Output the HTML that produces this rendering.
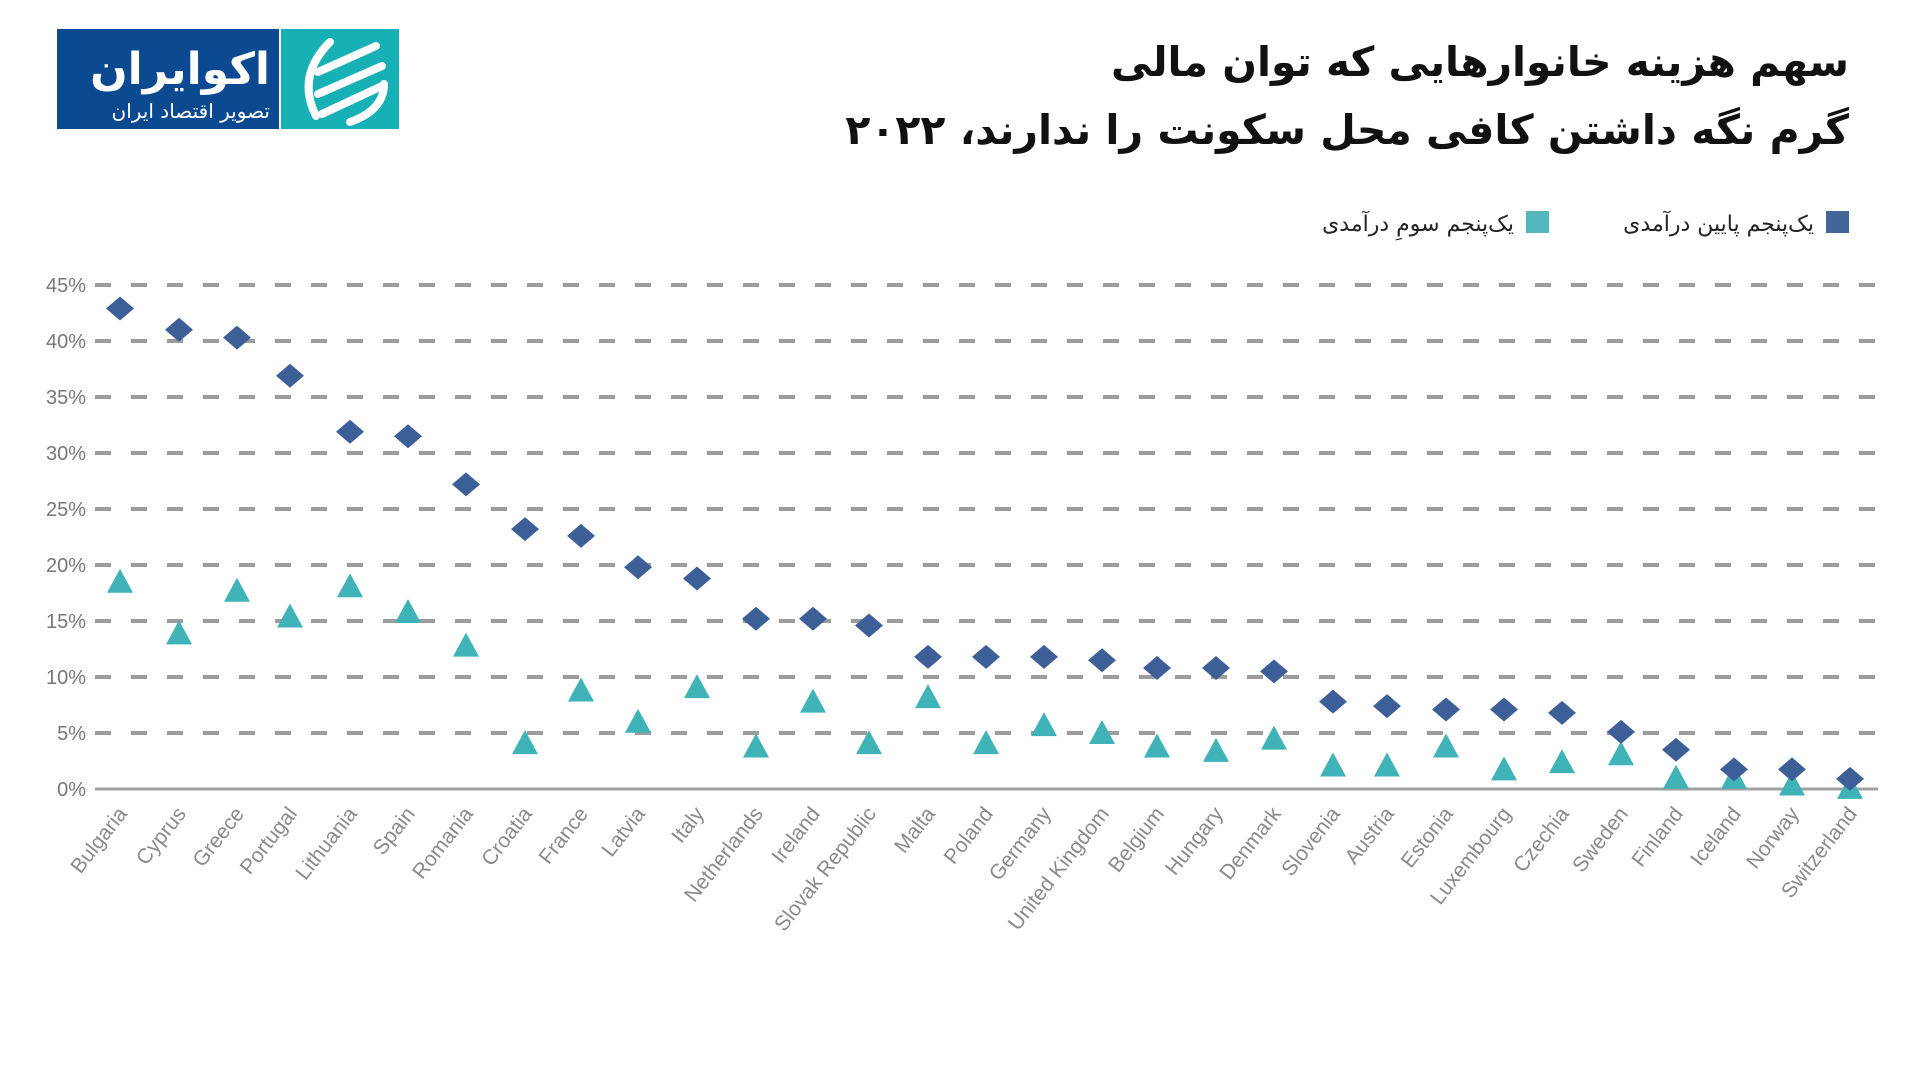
<!DOCTYPE html>
<html><head><meta charset="utf-8">
<style>
html,body{margin:0;padding:0;background:#fff;width:1920px;height:1080px;overflow:hidden}
svg{display:block}
</style></head>
<body>
<svg id="c" width="1920" height="1080" xmlns="http://www.w3.org/2000/svg" font-family="'Liberation Sans','Noto Sans CJK SC',sans-serif">
<rect x="57" y="29" width="222" height="100" fill="#0b4a91"/>
<rect x="281" y="29" width="118" height="100" fill="#17b0b5"/>
<text x="270" y="84" text-anchor="end" fill="#fff" font-size="44" font-weight="bold" font-family="'DejaVu Sans',sans-serif">اکوایران</text>
<text x="270" y="118" text-anchor="end" fill="#fff" font-size="20" font-family="'DejaVu Sans',sans-serif">تصویر اقتصاد ایران</text>
<g fill="none" stroke="#fff" stroke-width="8" stroke-linecap="round">
<path d="M376 46 L318 72"/><path d="M382 66 L318 94"/><path d="M382 86 L322 114"/>
<path d="M330 42 Q296 76 316 116"/><path d="M350 122 Q384 110 384 84"/>
</g>
<text x="1849" y="76" text-anchor="end" font-size="41" font-weight="bold" fill="#111" font-family="'DejaVu Sans',sans-serif" textLength="738" lengthAdjust="spacingAndGlyphs">سهم هزینه خانوارهایی که توان مالی</text>
<text x="1849" y="144" text-anchor="end" font-size="41" font-weight="bold" fill="#111" font-family="'DejaVu Sans',sans-serif">گرم نگه داشتن کافی محل سکونت را ندارند، ۲۰۲۲</text>
<rect x="1826" y="211" width="23" height="22" fill="#436598"/>
<text x="1814" y="231" text-anchor="end" font-size="22" fill="#222" font-family="'DejaVu Sans',sans-serif">یک‌پنجم پایین درآمدی</text>
<rect x="1526" y="211" width="23" height="22" fill="#52b8bd"/>
<text x="1514" y="231" text-anchor="end" font-size="22" fill="#222" font-family="'DejaVu Sans',sans-serif">یک‌پنجم سومِ درآمدی</text>
<g id="chart"></g>
</svg>
<script>
var g=document.getElementById('chart'),h='';
function Y(v){return 789-v*11.2;}
for(var i=1;i<=9;i++){var y=Y(i*5);
 h+='<line x1="95" x2="1880" y1="'+y+'" y2="'+y+'" stroke="#9c9c9c" stroke-width="4" stroke-dasharray="16 20"/>';
 h+='<text x="86" y="'+(y+7)+'" text-anchor="end" font-size="20" fill="#777">'+(i*5)+'%</text>';}
h+='<line x1="95" x2="1878" y1="789" y2="789" stroke="#a0a0a0" stroke-width="3"/>';
h+='<text x="86" y="796" text-anchor="end" font-size="20" fill="#777">0%</text>';
var d=[["Bulgaria",42.9,18.5],["Cyprus",41,13.9],["Greece",40.3,17.7],["Portugal",36.9,15.4],["Lithuania",31.9,18.1],["Spain",31.5,15.8],["Romania",27.2,12.8],["Croatia",23.2,4.1],["France",22.6,8.8],["Latvia",19.8,6.0],["Italy",18.8,9.1],["Netherlands",15.2,3.8],["Ireland",15.2,7.8],["Slovak Republic",14.6,4.1],["Malta",11.8,8.2],["Poland",11.8,4.1],["Germany",11.8,5.7],["United Kingdom",11.5,5.0],["Belgium",10.8,3.8],["Hungary",10.8,3.4],["Denmark",10.5,4.5],["Slovenia",7.8,2.1],["Austria",7.4,2.1],["Estonia",7.1,3.8],["Luxembourg",7.1,1.75],["Czechia",6.8,2.4],["Sweden",5.1,3.1],["Finland",3.5,1.0],["Iceland",1.75,1.0],["Norway",1.75,0.4],["Switzerland",0.9,0.1]];
var pos=[120,179,237,290,350,408,466,525,581,638,697,756,813,869,928,986,1044,1102,1157,1216,1274,1333,1387,1446,1504,1562,1621,1676,1734,1792,1850];
d.forEach(function(r,i){var x=pos[i];
 var ty=Y(r[2]);
 h+='<polygon points="'+x+','+(ty-13)+' '+(x+13)+','+(ty+11)+' '+(x-13)+','+(ty+11)+'" fill="#3fb3b8"/>';
 var dy=Y(r[1]);
 h+='<polygon points="'+x+','+(dy-12)+' '+(x+14)+','+dy+' '+x+','+(dy+12)+' '+(x-14)+','+dy+'" fill="#3d5f98"/>';
 h+='<text transform="translate('+(x+8)+',814) rotate(-52)" text-anchor="end" font-size="21" fill="#8a8a8a">'+r[0]+'</text>';
});
g.innerHTML=h;
</script>
</body></html>
